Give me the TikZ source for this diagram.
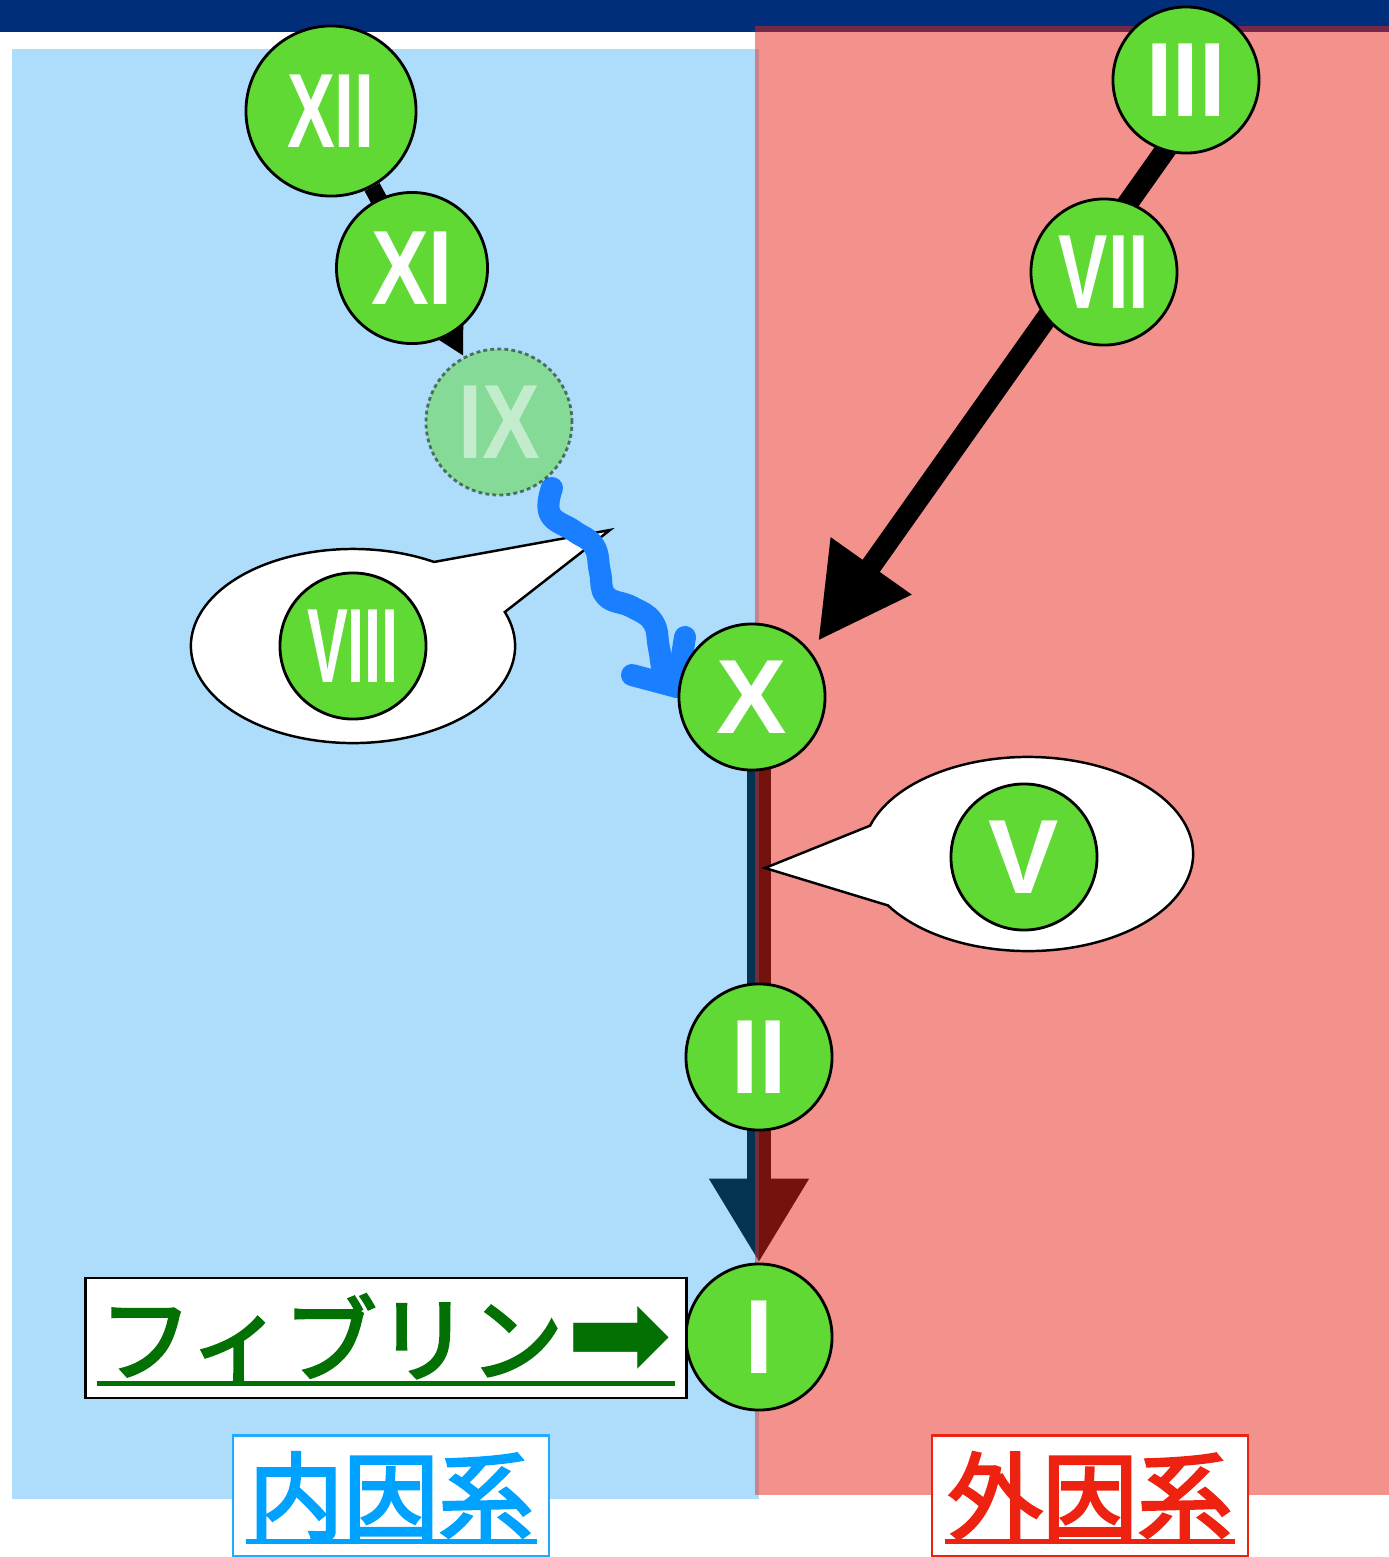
\documentclass[tikz,border=0pt]{standalone}
\usepackage{fontspec}
\usepackage{graphicx}
\setmainfont{Liberation Sans}
\newfontfamily\cjk{Noto Sans CJK JP}[FakeBold=3]
\newfontfamily\symfont{DejaVu Sans}
\usetikzlibrary{arrows.meta,calc}

\pgfdeclarelayer{base}
\pgfdeclarelayer{tint}
\pgfdeclarelayer{links}
\pgfdeclarelayer{balloons}
\pgfdeclarelayer{wave}
\pgfsetlayers{base,tint,links,balloons,wave,main}

\definecolor{navybar}{HTML}{002E7A}
\definecolor{tintblue}{HTML}{0999F0}
\definecolor{tintred}{HTML}{E8261A}
\definecolor{nodegreen}{HTML}{61D935}
\definecolor{fibgreen}{HTML}{037003}
\definecolor{wavecol}{HTML}{1A7FFF}
\definecolor{naiblue}{HTML}{00A2FF}
\definecolor{naiborder}{HTML}{22AAFF}
\definecolor{gaired}{HTML}{EE2211}

% horizontally condensed numeral
\newcommand\rnum[2]{\scalebox{#1}[1]{#2}}

\tikzset{
  factor/.style={circle, fill=nodegreen, draw=black, line width=0.8pt,
    inner sep=0pt, minimum size=1.46cm, text=white,
    font=\bfseries\fontsize{30}{30}\selectfont},
  faded/.style={factor, opacity=0.5, dash pattern=on 1.1pt off 0.9pt},
  link/.style={draw=black},
  balloon/.style={fill=white, draw=black, line width=0.7pt, line join=miter},
  squiggle/.style={draw=wavecol, line width=0.22cm, line cap=round, line join=round},
  labelbox/.style={fill=white, line width=0.6pt, inner sep=0pt,
    minimum width=3.16cm, minimum height=1.21cm,
    font=\cjk\fontsize{27}{27}\selectfont},
}

\begin{document}
\begin{tikzpicture}[x=0.01cm, y=-0.01cm]
\useasboundingbox (0,0) rectangle (1389,1557);

% coagulation factors
\node[factor, minimum size=1.70cm] (XII) at (331,111) {\rnum{0.68}{XII}};
\node[factor, minimum size=1.51cm] (XI) at (412,268) {\rnum{0.82}{XI}};
\node[faded] (IX) at (499,422) {\rnum{0.82}{IX}};
\node[factor] (III) at (1186,80) {\rnum{0.9}{III}};
\node[factor] (VII) at (1104,272) {\rnum{0.7}{VII}};
\node[factor] (VIII) at (353,646) {\rnum{0.58}{VIII}};
\node[factor] (X) at (752,697) {X};
\node[factor] (V) at (1024,857) {V};
\node[factor] (II) at (759,1057) {\rnum{0.93}{II}};
\node[factor] (I) at (759,1337) {I};

% background, header bar and the common pathway arrow
\begin{pgfonlayer}{base}
  \fill[white] (0,0) rectangle (1389,1557);
  \fill[navybar] (0,0) rectangle (1389,32);
  \draw[link, line width=0.24cm, -{Triangle[length=0.84cm,width=0.94cm]}] (I |- X) -- (I.north);
\end{pgfonlayer}

% intrinsic / extrinsic areas
\begin{pgfonlayer}{tint}
  \fill[tintblue, fill opacity=0.333] (12,49) rectangle (759,1499);
  \fill[tintred, fill opacity=0.5] (755,26) rectangle (1389,1495);
\end{pgfonlayer}

% cascade arrows
\begin{pgfonlayer}{links}
  \draw[link, line width=0.17cm, -{Triangle[length=0.6cm,width=0.6cm]}] (XII) -- (IX);
  \coordinate (vstart) at ($(III)+(29,0)$);
  \coordinate (vtip) at ($(X)+(66,-56)$);
  \draw[link, line width=0.21cm, -{Triangle[length=0.92cm,width=0.93cm]}] (vstart) -- (vtip);
\end{pgfonlayer}

% cofactor speech balloons
\begin{pgfonlayer}{balloons}
  \draw[balloon] ($(VIII)+(60:1.62cm and 0.97cm)$) -- (610,530)
    -- ($(VIII)+(20.5:1.62cm and 0.97cm)$)
    arc[start angle=20.5, end angle=-300, x radius=1.62cm, y radius=0.97cm] -- cycle;
  \coordinate (vc) at ($(V)+(4,-3)$);
  \draw[balloon] ($(vc)+(212:1.65cm and 0.97cm)$) -- (765,868)
    -- ($(vc)+(163:1.65cm and 0.97cm)$)
    arc[start angle=163, end angle=-148, x radius=1.65cm, y radius=0.97cm] -- cycle;
\end{pgfonlayer}

% wavy activation arrow IX -> X
\begin{pgfonlayer}{wave}
  \coordinate (wstart) at ($(IX)+(53,66)$);
  \coordinate (wend) at ($(X)+(-75,-10)$);
  \draw[squiggle] plot[smooth, tension=0.75] coordinates {(wstart) (550,514) (574,531)
    (594,546) (600,572) (606,596) (632,607) (653,622) (659,648) (664,672) (wend)};
  \draw[squiggle] ($(wend)+(8,-50)$) -- (wend) -- ($(wend)+(-45,-12)$);
\end{pgfonlayer}

% fibrin label
\node[draw=black, fill=white, line width=0.8pt, minimum width=6cm,
  minimum height=1.2cm, inner sep=0pt] (fib) at (386,1338)
  {\textcolor{fibgreen}{{\cjk\fontsize{26.5}{27}\selectfont フィブリン}\hspace{1pt}\raisebox{-1pt}{\symfont\fontsize{36}{36}\selectfont ➡}}};
\draw[fibgreen, line width=0.05cm] ($(fib.south west)+(13,-16)$) -- ($(fib.south east)+(-13,-16)$);

% pathway names
\node[labelbox, draw=naiborder, text=naiblue] (naiin) at (391,1496) {内因系};
\draw[naiblue, line width=0.045cm] ($(naiin.south west)+(14,-16)$) -- ($(naiin.south east)+(-13,-16)$);
\node[labelbox, draw=gaired, text=gaired] (gaiin) at (1090,1496) {外因系};
\draw[gaired, line width=0.045cm] ($(gaiin.south west)+(14,-16)$) -- ($(gaiin.south east)+(-14,-16)$);
\end{tikzpicture}
\end{document}
